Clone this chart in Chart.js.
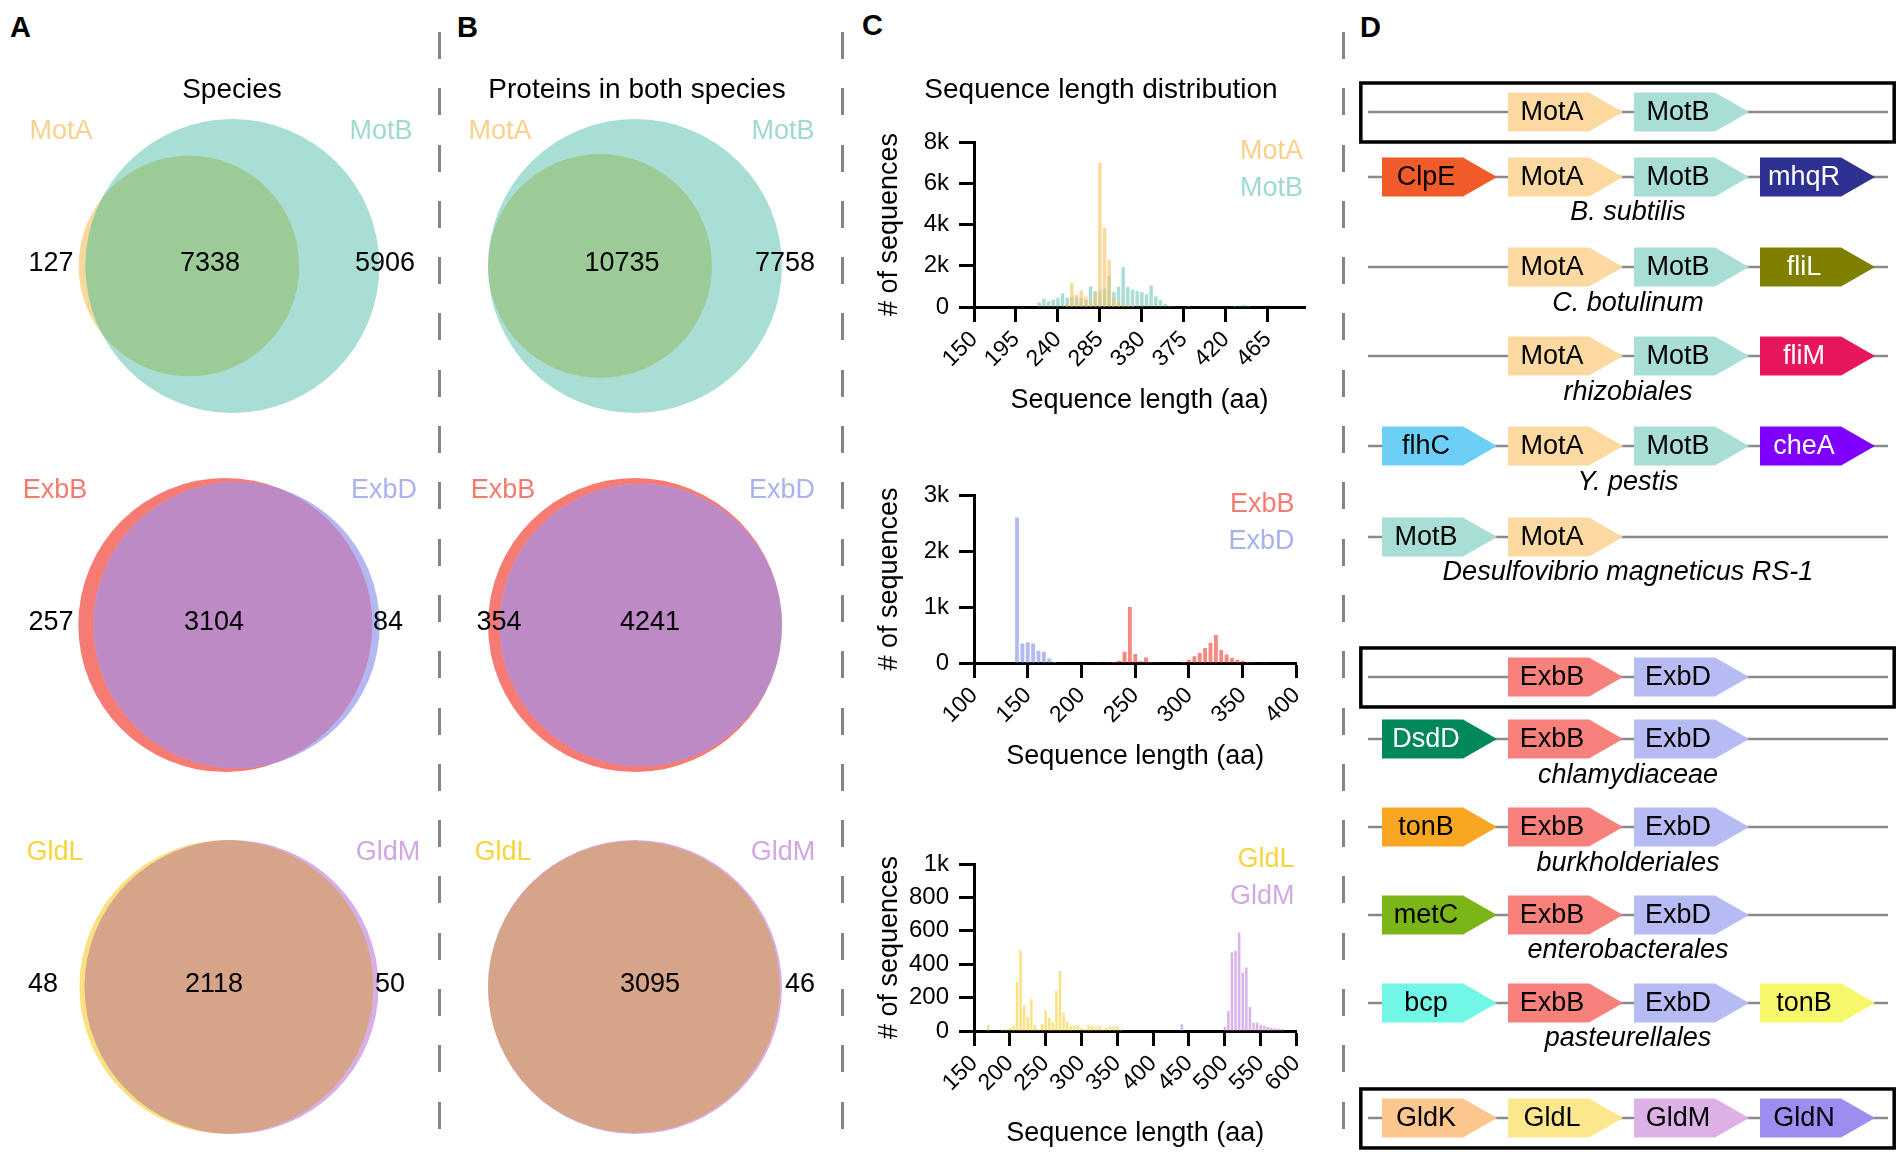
<!DOCTYPE html>
<html>
<head>
<meta charset="utf-8">
<title>MotA/MotB, ExbB/ExbD and GldL/GldM</title>
<script src="https://cdn.jsdelivr.net/npm/chart.js@4.4.1/dist/chart.umd.min.js"></script>
<style>
  html, body { margin: 0; padding: 0; background: #fff; }
  body { position: relative; width: 1904px; height: 1154px; overflow: hidden;
         font-family: 'Liberation Sans', Arial, Helvetica, sans-serif; }
  canvas { position: absolute; }
  .txt { position: absolute; white-space: nowrap; color: #000; z-index: 5; }
  .sep { position: absolute; top: 32px; width: 3px; height: 1122px;
         background: repeating-linear-gradient(to bottom, #858585 0 27px, transparent 27px 56.3px); }
</style>
</head>
<body>
<div class="sep" style="left:438px"></div>
<div class="sep" style="left:841px"></div>
<div class="sep" style="left:1342px"></div>
<script>
// ---------- data ----------
const vennPairs = [['MotA', 'MotB'], ['ExbB', 'ExbD'], ['GldL', 'GldM']];
// species (panel A): only first / shared / only second
const speciesOnlyFirst = [127, 257, 48];
const speciesShared = [7338, 3104, 2118];
const speciesOnlySecond = [5906, 84, 50];
// proteins in both species (panel B)
const proteinsOnlyFirst = [0, 354, 0];
const proteinsShared = [10735, 4241, 3095];
const proteinsOnlySecond = [7758, 0, 46];

// sequence length histograms, 5 aa bins
const motALen = [250, 255, 260, 265, 270, 275, 280, 285, 290, 295, 300, 305, 310, 315, 320];
const motACount = [150, 1160, 600, 800, 500, 300, 700, 7000, 3850, 2300, 450, 250, 120, 80, 50];
const motBLen = [220, 225, 230, 235, 240, 245, 250, 255, 260, 265, 270, 275, 280, 285, 290, 295, 300,
  305, 310, 315, 320, 325, 330, 335, 340, 345, 350, 355, 360, 365, 370, 375, 380, 385, 390, 395,
  400, 405, 410, 415, 420, 425, 430, 435, 440, 445];
const motBCount = [220, 400, 280, 350, 450, 660, 450, 500, 480, 450, 350, 1000, 780, 800, 900, 1500, 730,
  970, 1930, 970, 840, 770, 730, 610, 1050, 520, 350, 160, 60, 40, 30, 30, 40, 20, 20, 10,
  10, 10, 10, 10, 20, 30, 50, 80, 100, 60];

const exbBLen = [200, 205, 210, 215, 220, 225, 230, 235, 240, 245, 250, 255, 260, 265, 270, 275, 280,
  285, 290, 295, 300, 305, 310, 315, 320, 325, 330, 335, 340, 345, 350, 355, 360, 365, 370, 375, 380, 385];
const exbBCount = [10, 10, 10, 15, 10, 15, 20, 40, 200, 1000, 160, 30, 100, 20, 15, 10, 10,
  10, 10, 20, 60, 120, 180, 270, 360, 500, 230, 150, 90, 60, 40, 20, 15, 10, 5, 10, 10, 10];
const exbDLen = [140, 145, 150, 155, 160, 165, 170, 175];
const exbDCount = [2600, 350, 370, 350, 220, 200, 80, 20];

const gldLLen = [170, 190, 195, 200, 205, 210, 215, 220, 225, 230, 235, 240, 245, 250, 255, 260, 265,
  270, 275, 280, 285, 290, 295, 300, 305, 310, 315, 320, 325, 330, 335, 340, 345, 350, 355];
const gldLCount = [38, 8, 10, 20, 30, 294, 484, 154, 84, 190, 34, 10, 44, 124, 80, 54, 240,
  360, 110, 54, 30, 30, 36, 20, 10, 38, 28, 25, 30, 12, 20, 25, 28, 30, 10];
const gldMLen = [440, 500, 505, 510, 515, 520, 525, 530, 535, 540, 545, 550, 555, 560, 565, 570, 575, 580];
const gldMCount = [40, 24, 120, 470, 480, 590, 350, 380, 144, 50, 50, 36, 30, 24, 20, 16, 14, 14];

const motXTicks = [150, 195, 240, 285, 330, 375, 420, 465];
const exbXTicks = [100, 150, 200, 250, 300, 350, 400];
const gldXTicks = [150, 200, 250, 300, 350, 400, 450, 500, 550, 600];
const motYTickLabels = ['0', '2k', '4k', '6k', '8k'];
const exbYTickLabels = ['0', '1k', '2k', '3k'];
const gldYTickLabels = ['0', '200', '400', '600', '800', '1k'];

// gene neighbourhoods (panel D)
const geneRows = [
  ['', 'MotA', 'MotB', ''],
  ['ClpE', 'MotA', 'MotB', 'mhqR'],
  ['', 'MotA', 'MotB', 'fliL'],
  ['', 'MotA', 'MotB', 'fliM'],
  ['flhC', 'MotA', 'MotB', 'cheA'],
  ['MotB', 'MotA', '', ''],
  ['', 'ExbB', 'ExbD', ''],
  ['DsdD', 'ExbB', 'ExbD', ''],
  ['tonB', 'ExbB', 'ExbD', ''],
  ['metC', 'ExbB', 'ExbD', ''],
  ['bcp', 'ExbB', 'ExbD', 'tonB'],
  ['GldK', 'GldL', 'GldM', 'GldN']
];
const geneOrganisms = ['', 'B. subtilis', 'C. botulinum', 'rhizobiales', 'Y. pestis',
  'Desulfovibrio magneticus RS-1', '', 'chlamydiaceae', 'burkholderiales', 'enterobacterales',
  'pasteurellales', ''];
const referenceRows = [0, 6, 11];

// ---------- style / layout ----------
const FONT = "'Liberation Sans', Arial, Helvetica, sans-serif";
Chart.defaults.font.family = FONT;
Chart.defaults.color = '#000';

const vennFill = [
  ['#fad89b', '#a9ded5', '#9ccb98'],
  ['#f67b72', '#b3b9f0', '#bd8ac5'],
  ['#fbe07e', '#d8aee6', '#d5a489']
];
const vennTextColor = [['#f8d18d', '#9fdad0'], ['#f47a70', '#a9b2ee'], ['#f5d43c', '#d2a7e1']];
const vennRowY = [266, 625, 987];

const geneFill = {
  MotA: '#fbd9a0', MotB: '#a8ded5', ClpE: '#f15a29', mhqR: '#2e3192', fliL: '#808000',
  fliM: '#e8175d', flhC: '#6dcff6', cheA: '#8000ff', ExbB: '#f8827b', ExbD: '#b6bcf3',
  DsdD: '#00875a', tonB: '#f9a623', metC: '#7cb518', bcp: '#72f6e6',
  GldK: '#fcc68f', GldL: '#fde78c', GldM: '#ddb1e6', GldN: '#9d8df1'
};
const geneFillOverride = { '10:3': '#f7f76b' };
const whiteLabelGenes = ['mhqR', 'fliL', 'fliM', 'cheA', 'DsdD'];
const geneRowPos = [0, 0.73, 1.742, 2.742, 3.753, 4.775, 6.348, 7.045, 8.034, 9.022, 10.011, 11.303];

function place(id, left, top, w, h) {
  const c = document.createElement('canvas');
  c.id = id; c.width = w; c.height = h;
  c.style.left = left + 'px'; c.style.top = top + 'px';
  c.style.width = w + 'px'; c.style.height = h + 'px';
  document.body.appendChild(c);
  return c;
}

// y is the centre of the capitals
function label(text, x, y, size, opt = {}) {
  const d = document.createElement('div');
  d.className = 'txt';
  d.textContent = text;
  d.style.font = `${opt.weight || 'normal'} ${size}px/${size}px ${FONT}`;
  d.style.left = x + 'px';
  d.style.top = (y - 0.4885 * size) + 'px';
  if (opt.align === 'center') d.style.transform = 'translateX(-50%)';
  document.body.appendChild(d);
}

// ---------- panel letters and titles ----------
label('A', 10, 27, 29, { weight: 'bold' });
label('B', 457, 27, 29, { weight: 'bold' });
label('C', 862, 25, 29, { weight: 'bold' });
label('D', 1360, 27, 29, { weight: 'bold' });
label('Species', 232, 89, 28, { align: 'center' });
label('Proteins in both species', 637, 89, 28, { align: 'center' });
label('Sequence length distribution', 1101, 89, 28, { align: 'center' });

// ---------- Venn diagrams ----------
function lensArea(r1, r2, d) {
  if (d >= r1 + r2) return 0;
  if (d <= Math.abs(r1 - r2)) return Math.PI * Math.min(r1, r2) ** 2;
  const a = r1 * r1 * Math.acos((d * d + r1 * r1 - r2 * r2) / (2 * d * r1));
  const b = r2 * r2 * Math.acos((d * d + r2 * r2 - r1 * r1) / (2 * d * r2));
  const c = 0.5 * Math.sqrt((-d + r1 + r2) * (d + r1 - r2) * (d - r1 + r2) * (d + r1 + r2));
  return a + b - c;
}

// area-proportional circles, larger radius = 1, pair centred on 0
function vennLayout(onlyA, shared, onlyB) {
  const r1 = Math.sqrt((onlyA + shared) / Math.PI), r2 = Math.sqrt((shared + onlyB) / Math.PI);
  let lo = 0, hi = r1 + r2;
  for (let i = 0; i < 100; i++) {
    const mid = (lo + hi) / 2;
    if (lensArea(r1, r2, mid) >= shared * (1 - 1e-9)) lo = mid; else hi = mid;
  }
  const left = Math.min(-r1, lo - r2), right = Math.max(r1, lo + r2);
  const shift = (left + right) / 2, k = Math.max(r1, r2);
  return { x1: -shift / k, r1: r1 / k, x2: (lo - shift) / k, r2: r2 / k };
}

const vennColumns = [
  { left: 0, width: 436, cx: 229,
    first: speciesOnlyFirst, shared: speciesShared, second: speciesOnlySecond,
    textX: [[61, 381, 51, 210, 385], [55, 384, 51, 214, 388], [55, 388, 43, 214, 390]] },
  { left: 442, width: 398, cx: 635,
    first: proteinsOnlyFirst, shared: proteinsShared, second: proteinsOnlySecond,
    textX: [[500, 783, 499, 622, 785], [503, 782, 499, 650, 785], [503, 783, 499, 650, 800]] }
];

function vennPainter(geom, fills, names, nameColors, counts, textX, offsetX) {
  return {
    id: 'vennPainter',
    afterDatasetsDraw(chart) {
      const { ctx, scales: { x } } = chart;
      const pts = chart.getDatasetMeta(0).data;
      const unit = x.getPixelForValue(1) - x.getPixelForValue(0);
      const a = { x: pts[0].x, y: pts[0].y, r: geom.r1 * unit };
      const b = { x: pts[1].x, y: pts[1].y, r: geom.r2 * unit };
      const disc = c => { ctx.beginPath(); ctx.arc(c.x, c.y, c.r, 0, Math.PI * 2); };
      ctx.save();
      disc(a); ctx.fillStyle = fills[0]; ctx.fill();
      disc(b); ctx.fillStyle = fills[1]; ctx.fill();
      disc(a); ctx.clip();
      disc(b); ctx.fillStyle = fills[2]; ctx.fill();
      ctx.restore();

      ctx.save();
      ctx.font = `27px ${FONT}`;
      ctx.textAlign = 'center';
      ctx.textBaseline = 'middle';
      const yName = a.y - 134, yNum = a.y - 2;
      ctx.fillStyle = nameColors[0]; ctx.fillText(names[0], textX[0] - offsetX, yName);
      ctx.fillStyle = nameColors[1]; ctx.fillText(names[1], textX[1] - offsetX, yName);
      ctx.fillStyle = '#000';
      if (counts[0] > 0) ctx.fillText(String(counts[0]), textX[2] - offsetX, yNum);
      if (counts[1] > 0) ctx.fillText(String(counts[1]), textX[3] - offsetX, yNum);
      if (counts[2] > 0) ctx.fillText(String(counts[2]), textX[4] - offsetX, yNum);
      ctx.restore();
    }
  };
}

vennColumns.forEach((col, c) => {
  vennPairs.forEach((pair, r) => {
    const H = 340, R = 147;
    const canvas = place(`venn${c}${r}`, col.left, vennRowY[r] - H / 2, col.width, H);
    const counts = [col.first[r], col.shared[r], col.second[r]];
    const g = vennLayout(counts[0], counts[1], counts[2]);
    const cx = col.cx - col.left, cy = H / 2;
    new Chart(canvas, {
      type: 'scatter',
      data: { datasets: [{ data: [{ x: g.x1, y: 0 }, { x: g.x2, y: 0 }], pointRadius: 0, pointHoverRadius: 0 }] },
      options: {
        responsive: false, animation: false, events: [],
        layout: { padding: 0 },
        plugins: { legend: { display: false }, tooltip: { enabled: false } },
        scales: {
          x: { type: 'linear', display: false, min: -cx / R, max: (col.width - cx) / R },
          y: { type: 'linear', display: false, min: -(H - cy) / R, max: cy / R }
        }
      },
      plugins: [vennPainter(g, vennFill[r], pair, vennTextColor[r], counts, col.textX[r], col.left)]
    });
  });
});

// ---------- histograms ----------
function textLegend(colors, offsetTop) {
  return {
    id: 'textLegend',
    afterDraw(chart) {
      const { ctx, chartArea } = chart;
      ctx.save();
      ctx.font = `27px ${FONT}`;
      ctx.textAlign = 'right';
      ctx.textBaseline = 'middle';
      chart.data.datasets.forEach((ds, i) => {
        ctx.fillStyle = colors[i];
        ctx.fillText(ds.label, chartArea.right - 2, chartArea.top + offsetTop + i * 37);
      });
      ctx.restore();
    }
  };
}

const histSpecs = [
  { id: 'histMot', top: 60, padTop: 82, padRight: 15, xAxisH: 123, xTitlePad: 13,
    xMin: 150, xMax: 505, xTicks: motXTicks, yMax: 8000, yStep: 2000, yTicks: motYTickLabels,
    legendTop: 10, barPct: 0.75,
    series: [
      { name: 'MotA', len: motALen, count: motACount, fill: 'rgba(247,196,104,0.65)', text: '#f8d08c' },
      { name: 'MotB', len: motBLen, count: motBCount, fill: 'rgba(124,205,190,0.65)', text: '#9edad0' }
    ] },
  { id: 'histExb', top: 420, padTop: 75, padRight: 19, xAxisH: 127, xTitlePad: 17,
    xMin: 100, xMax: 400, xTicks: exbXTicks, yMax: 3000, yStep: 1000, yTicks: exbYTickLabels,
    legendTop: 10, barPct: 0.72,
    series: [
      { name: 'ExbB', len: exbBLen, count: exbBCount, fill: 'rgba(241,90,80,0.72)', text: '#f47c75' },
      { name: 'ExbD', len: exbDLen, count: exbDCount, fill: 'rgba(150,160,236,0.72)', text: '#a7b1ee' }
    ] },
  { id: 'histGld', top: 785, padTop: 79, padRight: 16, xAxisH: 124, xTitlePad: 5,
    xMin: 150, xMax: 600, xTicks: gldXTicks, yMax: 1000, yStep: 200, yTicks: gldYTickLabels,
    legendTop: -4, barPct: 0.7,
    series: [
      { name: 'GldL', len: gldLLen, count: gldLCount, fill: 'rgba(248,214,80,0.72)', text: '#f6d43f' },
      { name: 'GldM', len: gldMLen, count: gldMCount, fill: 'rgba(200,150,222,0.72)', text: '#d3a9e2' }
    ] }
];

histSpecs.forEach(spec => {
  const canvas = place(spec.id, 850, spec.top, 470, 370);
  new Chart(canvas, {
    type: 'bar',
    data: {
      datasets: spec.series.map(s => ({
        label: s.name,
        data: s.len.map((l, i) => ({ x: l, y: s.count[i] })),
        backgroundColor: s.fill,
        borderWidth: 0,
        grouped: false,
        barPercentage: spec.barPct,
        categoryPercentage: 1
      }))
    },
    options: {
      responsive: false, animation: false, events: [],
      layout: { padding: { top: spec.padTop, right: spec.padRight, left: 0, bottom: 0 } },
      plugins: { legend: { display: false }, tooltip: { enabled: false } },
      scales: {
        x: {
          type: 'linear', min: spec.xMin, max: spec.xMax, offset: false,
          afterBuildTicks: s => { s.ticks = spec.xTicks.map(v => ({ value: v })); },
          ticks: { autoSkip: false, minRotation: 45, maxRotation: 45, font: { size: 23 },
                   padding: 4, color: '#000' },
          grid: { display: true, drawOnChartArea: false, drawTicks: true, tickLength: 15,
                  tickWidth: 3, tickColor: '#000', offset: false },
          border: { display: true, color: '#000', width: 3 },
          title: { display: true, text: 'Sequence length (aa)', font: { size: 27 },
                   padding: { top: 0, bottom: spec.xTitlePad } },
          afterFit: s => { s.height = spec.xAxisH; }
        },
        y: {
          min: 0, max: spec.yMax,
          ticks: { stepSize: spec.yStep, autoSkip: false, font: { size: 24 }, padding: 10, color: '#000',
                   callback: (v, i) => spec.yTicks[i] },
          grid: { display: true, drawOnChartArea: false, drawTicks: true, tickLength: 15,
                  tickWidth: 3, tickColor: '#000' },
          border: { display: true, color: '#000', width: 3 },
          title: { display: true, text: '# of sequences', font: { size: 27 },
                   padding: { top: 23, bottom: 0 } },
          afterFit: s => { s.width = 124; }
        }
      }
    },
    plugins: [textLegend(spec.series.map(s => s.text), spec.legendTop)]
  });
});

// ---------- gene neighbourhoods ----------
const GENE_LEN = 0.913, HEAD = 34, HALF = 19.5;
const geneTrack = {
  id: 'geneTrack',
  afterDatasetsDraw(chart) {
    const { ctx, scales: { x, y } } = chart;
    const X = v => x.getPixelForValue(v);
    ctx.save();
    geneRows.forEach((row, r) => {
      const yc = y.getPixelForValue(geneRowPos[r]);
      if (referenceRows.includes(r)) {
        ctx.strokeStyle = '#000';
        ctx.lineWidth = 3.5;
        ctx.strokeRect(X(-0.168), yc - 29, X(4.065) - X(-0.168), 59);
      }
      ctx.strokeStyle = '#8a8a8a';
      ctx.lineWidth = 2.5;
      ctx.beginPath();
      ctx.moveTo(X(-0.111), yc);
      ctx.lineTo(X(4.016), yc);
      ctx.stroke();
      row.forEach((gene, s) => {
        if (!gene) return;
        const x0 = X(s), x1 = X(s + GENE_LEN), xh = x1 - HEAD;
        ctx.beginPath();
        ctx.moveTo(x0, yc - HALF);
        ctx.lineTo(xh, yc - HALF);
        ctx.lineTo(x1, yc);
        ctx.lineTo(xh, yc + HALF);
        ctx.lineTo(x0, yc + HALF);
        ctx.closePath();
        ctx.fillStyle = geneFillOverride[`${r}:${s}`] || geneFill[gene];
        ctx.fill();
        ctx.fillStyle = whiteLabelGenes.includes(gene) ? '#fff' : '#000';
        ctx.font = `27px ${FONT}`;
        ctx.textAlign = 'center';
        ctx.textBaseline = 'middle';
        ctx.fillText(gene, x0 + 44, yc + 1);
      });
      if (geneOrganisms[r]) {
        ctx.fillStyle = '#000';
        ctx.font = `italic 27px ${FONT}`;
        ctx.textAlign = 'center';
        ctx.textBaseline = 'middle';
        ctx.fillText(geneOrganisms[r], X(1.952), yc + 36);
      }
    });
    ctx.restore();
  }
};

const geneCanvas = place('genes', 1350, 60, 554, 1094);
const genePoints = [];
geneRows.forEach((row, r) => row.forEach((g, s) => { if (g) genePoints.push({ x: s + 0.45, y: geneRowPos[r] }); }));
new Chart(geneCanvas, {
  type: 'scatter',
  data: { datasets: [{ data: genePoints, pointRadius: 0, pointHoverRadius: 0 }] },
  options: {
    responsive: false, animation: false, events: [],
    layout: { padding: 0 },
    plugins: { legend: { display: false }, tooltip: { enabled: false } },
    scales: {
      x: { type: 'linear', display: false, min: (1350 - 1382) / 126, max: (1904 - 1382) / 126 },
      y: { type: 'linear', display: false, reverse: true, min: -52 / 89, max: (1094 - 52) / 89 }
    }
  },
  plugins: [geneTrack]
});
</script>
</body>
</html>
